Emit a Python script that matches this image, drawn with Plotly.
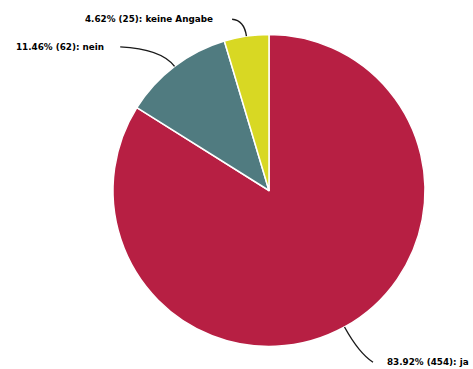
import math
import plotly.graph_objects as go

# Data
labels = ["ja", "nein", "keine Angabe"]
values = [454, 62, 25]
colors = ["#B71F43", "#507B80", "#D8D823"]

# Layout constants (screen pixels)
W, H = 473, 369
CX, CY, R = 269, 190.5, 156
# per-label connector style: radial extension, end offset dx, dy, text gap
conn = {
    "ja": (30, 14, 9, 13),
    "nein": (22, -41, -2, -15),
    "keine Angabe": (16, -12, -1, -18),
}

def px(x):
    return x / W

def py(y):
    return 1 - y / H

fig = go.Figure(go.Pie(
    labels=labels, values=values, sort=False, direction="clockwise", rotation=0,
    marker=dict(colors=colors, line=dict(color="white", width=1.5)),
    textinfo="none", showlegend=False,
    domain=dict(x=[px(CX - R), px(CX + R)], y=[py(CY + R), py(CY - R)]),
))

total = sum(values)
cum = 0
shapes = []
annotations = []
for lab, v in zip(labels, values):
    mid = (cum + v / 2) / total * 2 * math.pi
    cum += v
    dx, dy = math.sin(mid), -math.cos(mid)
    ex, ey = CX + R * dx, CY + R * dy
    rext, ox, oy, gap = conn[lab]
    cx_, cy_ = ex + rext * dx, ey + rext * dy
    tx, ty = cx_ + ox, cy_ + oy
    path = f"M {px(ex)},{py(ey)} Q {px(cx_)},{py(cy_)} {px(tx)},{py(ty)}"
    shapes.append(dict(type="path", path=path, xref="paper", yref="paper",
                       line=dict(color="#1a1a1a", width=1.4)))
    pct = v / total * 100
    annotations.append(dict(
        x=px(tx + gap), y=py(ty), xref="paper", yref="paper",
        text=f"<b>{pct:.2f}% ({v}): {lab}</b>", showarrow=False,
        xanchor="left" if gap > 0 else "right", yanchor="middle",
        borderpad=0,
        font=dict(family="DejaVu Sans", size=8.8, color="#000000"),
    ))

fig.update_layout(
    width=W, height=H, margin=dict(l=0, r=0, t=0, b=0),
    paper_bgcolor="white", plot_bgcolor="white",
    shapes=shapes, annotations=annotations,
)
fig.write_html(
    "out.html",
    config={"displayModeBar": False},
    post_script="document.body.style.margin='0';document.body.style.overflow='hidden';",
)
